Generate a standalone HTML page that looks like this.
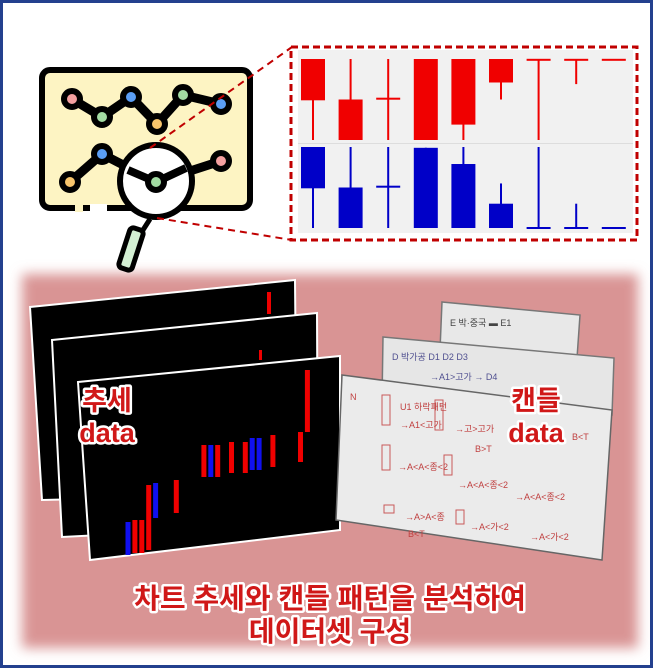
<!DOCTYPE html>
<html><head><meta charset="utf-8">
<style>
html,body{margin:0;padding:0;background:#fff;}
svg{display:block;}
.lbl{font-family:"Liberation Sans","Noto Sans CJK KR",sans-serif;font-weight:bold;fill:#d01818;stroke:#fff;stroke-width:5;paint-order:stroke;stroke-linejoin:round;}
.scr{font-family:"Liberation Sans","Noto Sans CJK KR",sans-serif;font-size:9px;fill:#c04040;}
</style></head>
<body>
<svg id="s" width="653" height="668" viewBox="0 0 653 668" xmlns="http://www.w3.org/2000/svg">
<defs>
<filter id="blur" x="-10%" y="-10%" width="120%" height="120%"><feGaussianBlur stdDeviation="6"/></filter>
</defs>
<rect x="0" y="0" width="653" height="668" fill="#fff"/>
<rect x="22" y="274" width="616" height="374" fill="#d99494" filter="url(#blur)"/>
<rect x="1.5" y="1.5" width="650" height="665" fill="none" stroke="#23408e" stroke-width="3"/>

<!-- icon -->
<g>
<rect x="42" y="70" width="208" height="138" rx="8" fill="#fdf4c3" stroke="#000" stroke-width="6"/>
<rect x="75" y="204" width="8" height="8" fill="#fdf4c3"/>
<rect x="95" y="204" width="12" height="8" fill="#fff"/>
<polyline points="72,99 102,117 131,97 157,124 183,95 221,104" fill="none" stroke="#000" stroke-width="9" stroke-linejoin="round"/>
<polyline points="70,182 102,154 156,182 221,161" fill="none" stroke="#000" stroke-width="9" stroke-linejoin="round"/>
<circle cx="156" cy="181" r="36" fill="#fff" stroke="#000" stroke-width="6"/>
<polyline points="128,170 156,182 186,168" fill="none" stroke="#000" stroke-width="8" stroke-linejoin="round"/>
<g stroke="#000" stroke-width="6">
<circle cx="72" cy="99" r="8" fill="#f4a0a0"/><circle cx="102" cy="117" r="8" fill="#a3dca3"/><circle cx="131" cy="97" r="8" fill="#5b9ef5"/><circle cx="157" cy="124" r="8" fill="#f8c56c"/><circle cx="183" cy="95" r="8" fill="#a3dca3"/><circle cx="221" cy="104" r="8" fill="#5b9ef5"/>
<circle cx="70" cy="182" r="8" fill="#f8c56c"/><circle cx="102" cy="154" r="8" fill="#5b9ef5"/><circle cx="156" cy="182" r="8" fill="#a3dca3"/><circle cx="221" cy="161" r="8" fill="#f4a0a0"/>
</g>
<line x1="150" y1="219" x2="143" y2="230" stroke="#000" stroke-width="5"/>
<rect x="124" y="228" width="14" height="42" rx="4" transform="rotate(18 131 249)" fill="#d4f0d4" stroke="#000" stroke-width="5"/>
<rect x="90" y="204" width="6" height="8" fill="#fff"/>
</g>
<line x1="150" y1="148" x2="292" y2="47" stroke="#c00000" stroke-width="2" stroke-dasharray="7,5"/>
<line x1="157" y1="218" x2="292" y2="240" stroke="#c00000" stroke-width="2" stroke-dasharray="7,5"/>

<!-- candle panel -->
<g>
<rect x="298" y="50" width="335" height="183" fill="#f1f1f1"/>
<line x1="298" y1="143.5" x2="633" y2="143.5" stroke="#ddd" stroke-width="1"/>
<g id="candles"></g>
<rect x="291" y="47" width="346" height="193" fill="none" stroke="#c00000" stroke-width="3" stroke-dasharray="7,4"/>
</g>

<!-- trend cards -->
<g>
<polygon points="30,307 295,280 297,494 42,500" fill="#000" stroke="#fff" stroke-width="2"/>
<rect x="267" y="292" width="4" height="22" fill="#e00"/>
<polygon points="52,340 317,313 318,524 62,537" fill="#000" stroke="#fff" stroke-width="2"/>
<rect x="259" y="350" width="3" height="10" fill="#e00"/>
<polygon points="78,382 340,356 340,530 90,560" fill="#000" stroke="#fff" stroke-width="2"/>
<g id="trend"></g>
</g>

<!-- whiteboards -->
<g>
<polygon points="442,302 580,315 577,358 440,350" fill="#e8e8e8" stroke="#777" stroke-width="1.5"/>
<text class="scr" x="450" y="326" style="fill:#444">E  박·중국   ▬ E1</text>
<polygon points="383,337 614,358 612,415 382,402" fill="#e6e6e6" stroke="#777" stroke-width="1.5"/>
<text class="scr" x="392" y="360" style="fill:#505090">D  박가공  D1   D2   D3</text>
<text class="scr" x="430" y="380" style="fill:#505090">→A1&gt;고가   →   D4</text>
<polygon points="342,375 612,410 602,560 336,520" fill="#ebebeb" stroke="#666" stroke-width="1.5"/>
<g stroke="#c85a5a" stroke-width="1" fill="none">
<rect x="382" y="395" width="8" height="30"/><rect x="435" y="400" width="8" height="30"/>
<rect x="382" y="445" width="8" height="25"/><rect x="444" y="455" width="8" height="20"/>
<rect x="384" y="505" width="10" height="8"/><rect x="456" y="510" width="8" height="14"/>
</g>
<text class="scr" x="350" y="400">N</text>
<text class="scr" x="400" y="410">U1 하락패턴</text>
<text class="scr" x="400" y="428">→A1&lt;고가</text>
<text class="scr" x="455" y="432">→고&gt;고가</text>
<text class="scr" x="475" y="452">B&gt;T</text>
<text class="scr" x="398" y="470">→A&lt;A&lt;종&lt;2</text>
<text class="scr" x="458" y="488">→A&lt;A&lt;종&lt;2</text>
<text class="scr" x="515" y="500">→A&lt;A&lt;종&lt;2</text>
<text class="scr" x="405" y="520">→A&gt;A&lt;종</text>
<text class="scr" x="470" y="530">→A&lt;가&lt;2</text>
<text class="scr" x="530" y="540">→A&lt;가&lt;2</text>
<text class="scr" x="572" y="440">B&lt;T</text>
<text class="scr" x="408" y="537">B&lt;T</text>
</g>

<!-- labels -->
<text class="lbl" x="107" y="410" font-size="27" text-anchor="middle">추세</text>
<text class="lbl" x="107" y="442" font-size="27" text-anchor="middle">data</text>
<text class="lbl" x="536" y="410" font-size="27" text-anchor="middle">캔들</text>
<text class="lbl" x="536" y="442" font-size="27" text-anchor="middle">data</text>
<text class="lbl" x="330" y="608" font-size="28" text-anchor="middle">차트 추세와 캔들 패턴을 분석하여</text>
<text class="lbl" x="330" y="641" font-size="28" text-anchor="middle">데이터셋 구성</text>
</svg>
<script>
// candle data (0..100 scale per panel)
const candleCats = [1,2,3,4,5,6,7,8,9];
const redOpen  = [100,50,51,100,100,100,99,99,99];
const redClose = [49,0,51,0,19,71,99,99,99];
const redHigh  = [100,100,100,100,100,100,99,99,99];
const redLow   = [0,0,0,0,0,50,0,69,99];
const blueOpen  = [100,50,51,99,79,30,0,0,0];
const blueClose = [49,0,51,0,0,0,0,0,0];
const blueHigh  = [100,100,100,99,100,55,100,30,0];
const blueLow   = [0,0,0,0,0,0,0,0,0];
// trend data
const trendIdx   = [0,1,2,3,4,7,11,12,13,15,17,18,19,21,25,26];
const trendOpen  = [19,20,20,37.5,38.5,40,57.5,57.5,57.5,59,59,61,61,62.5,64,95];
const trendClose = [2.5,3.5,3.5,5,21,23.5,41.5,41.5,41.5,43.5,43.5,45,45,46.5,49,64];
const trendColor = ['b','r','r','r','b','r','r','b','r','r','r','b','b','r','r','r'];

const NS='http://www.w3.org/2000/svg';
function mk(t,a,p){const e=document.createElementNS(NS,t);for(const k in a)e.setAttribute(k,a[k]);p.appendChild(e);return e;}
const cg=document.getElementById('candles');
const cx=i=>313+i*37.6;
const yTop=v=>140-v*0.81, yBot=v=>228-v*0.81;
function drawPanel(O,C,H,L,ys,col,name){
  candleCats.forEach((c,i)=>{
    const x=cx(i);
    const w=mk('line',{x1:x,x2:x,y1:ys(H[i]),y2:ys(L[i]),stroke:col,'stroke-width':2},cg);
    
    
    const t=Math.max(O[i],C[i]), b=Math.min(O[i],C[i]);
    const h=ys(b)-ys(t);
    let r;
    if(h<1.5){ r=mk('rect',{x:x-12,y:ys(t)-1,width:24,height:2,fill:col},cg); }
    else r=mk('rect',{x:x-12,y:ys(t),width:24,height:h,fill:col},cg);
    
    
  });
}
drawPanel(redOpen,redClose,redHigh,redLow,yTop,'#f00000','red');
drawPanel(blueOpen,blueClose,blueHigh,blueLow,yBot,'#0000c8','blue');

const tg=document.getElementById('trend');
const tx=i=>128+i*6.9, ty=v=>560-v*2.0;
trendIdx.forEach((d,i)=>{
  const t=Math.max(trendOpen[i],trendClose[i]), b=Math.min(trendOpen[i],trendClose[i]);
  const r=mk('rect',{x:tx(d)-2.5,y:ty(t),width:5,height:ty(b)-ty(t),fill:trendColor[i]=='r'?'#f00000':'#1010f0'},tg);
  
  
});
</script>
</body></html>
